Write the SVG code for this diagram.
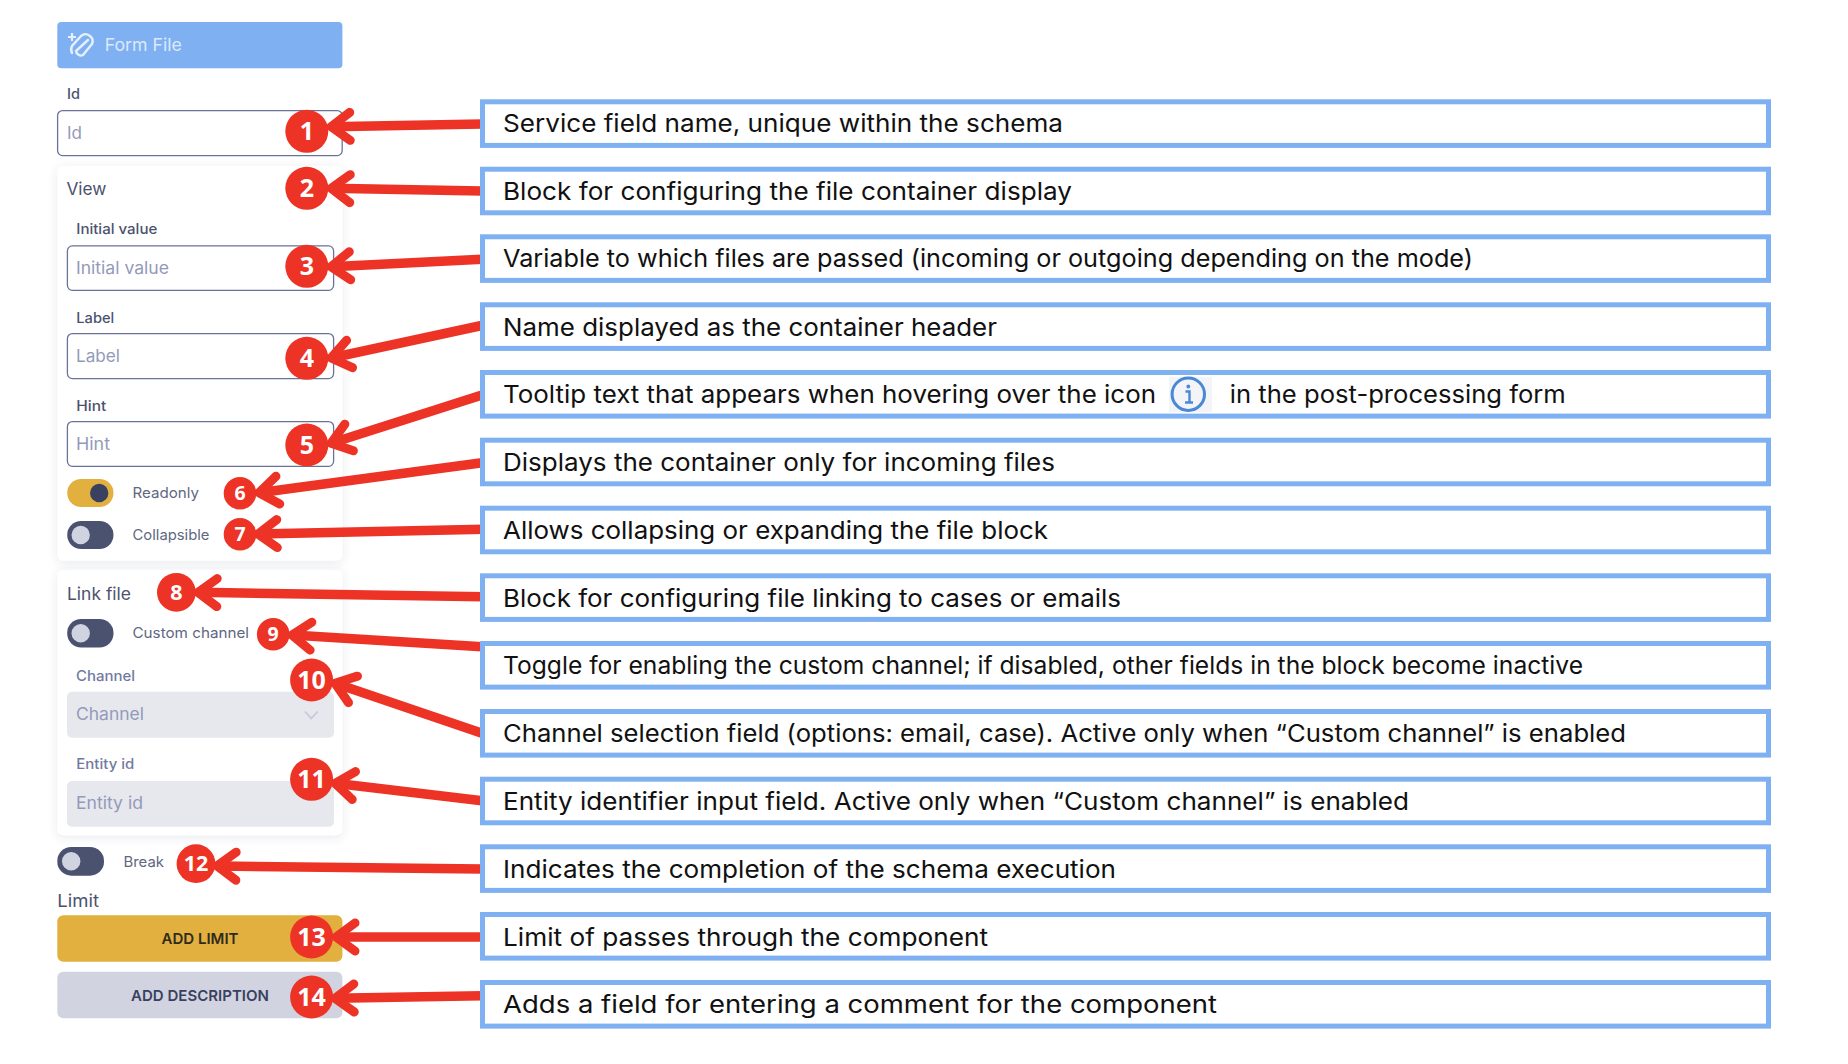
<svg xmlns="http://www.w3.org/2000/svg" width="1848" height="1064" viewBox="0 0 1848 1064">
<style>
text{font-family:"Inter","Liberation Sans",sans-serif}
.box{fill:#fff;stroke:#7fb1f2;stroke-width:5}
.desc{font-size:24.5px;fill:#111}
.lbl{font-size:14.5px;font-weight:500;fill:#4b5270}
.lbld{font-size:14.5px;font-weight:500;fill:#7279a0}
.ph{font-size:17px;fill:#939ab9}
.title{font-size:17px;fill:#4b5270}
.tl{font-size:14.5px;fill:#5f6782}
.inp{fill:#fff;stroke:#6a7299;stroke-width:1.3}
.dis{fill:#e7e8ee}
.card{fill:#fff;filter:url(#sh)}
.off{fill:#4a5270}
.knob{fill:#d0d3e0}
.badge{fill:#ec3325}
.num{font-family:"Open Sans","Liberation Sans",sans-serif;font-weight:700;fill:#fff;text-anchor:middle}
.n1{font-size:25px}.n2{font-size:21.5px}.n3{font-size:19.5px}
.btn{font-size:15px;font-weight:600;text-anchor:middle}
.arr{fill:none;stroke:#ec3325;stroke-width:9.5;marker-end:url(#head)}
</style>
<defs>
<filter id="sh" x="-15%" y="-10%" width="130%" height="120%"><feDropShadow dx="0" dy="2" stdDeviation="5" flood-color="#4a5270" flood-opacity="0.13"/></filter>
<marker id="head" markerUnits="userSpaceOnUse" markerWidth="50" markerHeight="60" refX="32" refY="30" orient="auto" overflow="visible">
<path d="M13 16 L32 30 L13 44" fill="none" stroke="#ec3325" stroke-width="9" stroke-linecap="round" stroke-linejoin="round"/>
</marker>
</defs>
<rect width="1848" height="1064" fill="#fff"/>

<g id="form-header">
<rect x="57.3" y="22" width="285.1" height="46.3" rx="4" fill="#7fb1f2"/>
<path d="M88 40 L76 51 A5 5 0 0 0 83 55 L92 44 A7 7 0 0 0 81 36 L72 46 A8 8 0 0 0 72 53" fill="none" stroke="#e6f0fc" stroke-width="2.4" stroke-linecap="round"/>
<path d="M72 33 V41 M68 37 H76" stroke="#e6f0fc" stroke-width="2.2"/>
<text x="104.8" y="51" font-size="17" fill="#dce9fb" textLength="77" lengthAdjust="spacingAndGlyphs">Form File</text>
</g>
<g id="field-id">
<text class="lbl" x="67" y="99.3">Id</text>
<rect class="inp" x="57.6" y="110.6" width="284.6" height="45" rx="5"/>
<text class="ph" x="67" y="139.3">Id</text>
</g>
<g id="card-view">
<rect class="card" x="57.3" y="166" width="285.1" height="394.7" rx="6"/>
<text class="title" x="66.4" y="195.3" textLength="40" lengthAdjust="spacingAndGlyphs">View</text>
<text class="lbl" x="76.3" y="234.3" textLength="81" lengthAdjust="spacingAndGlyphs">Initial value</text>
<rect class="inp" x="67.4" y="245.9" width="266.2" height="44.4" rx="5"/>
<text class="ph" x="76" y="274" textLength="93" lengthAdjust="spacingAndGlyphs">Initial value</text>
<text class="lbl" x="76.3" y="322.7" textLength="38" lengthAdjust="spacingAndGlyphs">Label</text>
<rect class="inp" x="67.4" y="333.6" width="266.2" height="45" rx="5"/>
<text class="ph" x="76" y="362.3" textLength="44" lengthAdjust="spacingAndGlyphs">Label</text>
<text class="lbl" x="76.3" y="410.7" textLength="30" lengthAdjust="spacingAndGlyphs">Hint</text>
<rect class="inp" x="67.4" y="421.6" width="266.2" height="44.7" rx="5"/>
<text class="ph" x="76" y="450.3" textLength="34" lengthAdjust="spacingAndGlyphs">Hint</text>
<rect x="67.2" y="479" width="46.3" height="28" rx="14" fill="#e2b03f"/>
<circle cx="99.2" cy="493" r="9.2" fill="#3a4160"/>
<text class="tl" x="132.5" y="498" textLength="66.5" lengthAdjust="spacingAndGlyphs">Readonly</text>
<rect class="off" x="67.2" y="521" width="46.3" height="28" rx="14"/>
<circle class="knob" cx="80.7" cy="535" r="9.2"/>
<text class="tl" x="132.5" y="540.3" textLength="77" lengthAdjust="spacingAndGlyphs">Collapsible</text>
</g>
<g id="card-link">
<rect class="card" x="57.3" y="570" width="285.1" height="265.3" rx="6"/>
<text class="title" x="67" y="599.7" textLength="64" lengthAdjust="spacingAndGlyphs">Link file</text>
<rect class="off" x="67.2" y="619" width="46.3" height="28.6" rx="14"/>
<circle class="knob" cx="80.7" cy="633.3" r="9.2"/>
<text class="tl" x="132.5" y="638.3" textLength="116.5" lengthAdjust="spacingAndGlyphs">Custom channel</text>
<text class="lbld" x="76" y="680.7" textLength="59" lengthAdjust="spacingAndGlyphs">Channel</text>
<rect class="dis" x="67" y="691.7" width="267" height="46" rx="5"/>
<text class="ph" x="76" y="720" textLength="68" lengthAdjust="spacingAndGlyphs">Channel</text>
<path d="M305 711.5 L311.3 718.5 L317.6 711.5" fill="none" stroke="#c5c9d8" stroke-width="1.8"/>
<text class="lbld" x="76.3" y="769.3" textLength="58" lengthAdjust="spacingAndGlyphs">Entity id</text>
<rect class="dis" x="67" y="781" width="267" height="45.7" rx="5"/>
<text class="ph" x="76" y="809.3" textLength="67" lengthAdjust="spacingAndGlyphs">Entity id</text>
</g>
<g id="field-break">
<rect class="off" x="57.3" y="847" width="46.7" height="28.7" rx="14"/>
<circle class="knob" cx="71.2" cy="861.3" r="9.2"/>
<text class="tl" x="123.4" y="867.3" textLength="40.6" lengthAdjust="spacingAndGlyphs">Break</text>
</g>
<g id="field-limit">
<text class="title" x="57.3" y="907.3" textLength="41.7" lengthAdjust="spacingAndGlyphs">Limit</text>
<rect x="57.3" y="915.3" width="285.1" height="46.4" rx="6" fill="#e2b03f"/>
<text class="btn" x="200" y="944.3" fill="#2f2a1e" textLength="77" lengthAdjust="spacingAndGlyphs">ADD LIMIT</text>
</g>
<g id="btn-description">
<rect x="57.3" y="971.7" width="285.1" height="46.6" rx="6" fill="#d1d4e0"/>
<text class="btn" x="200" y="1000.7" fill="#3a4160" textLength="138" lengthAdjust="spacingAndGlyphs">ADD DESCRIPTION</text>
</g>

<g id="connectors">
<line class="arr" x1="482" y1="124" x2="331" y2="126.7"/>
<line class="arr" x1="482" y1="191" x2="331" y2="188.3"/>
<line class="arr" x1="482" y1="259.3" x2="331" y2="266.7"/>
<line class="arr" x1="484" y1="325" x2="331" y2="358"/>
<line class="arr" x1="482" y1="395" x2="331" y2="443.3"/>
<line class="arr" x1="482" y1="462.7" x2="259" y2="492.7"/>
<line class="arr" x1="484" y1="529.3" x2="258" y2="534"/>
<line class="arr" x1="484" y1="596.7" x2="198" y2="592.3"/>
<line class="arr" x1="482" y1="646.7" x2="292" y2="635"/>
<line class="arr" x1="482" y1="733.3" x2="335" y2="683.3"/>
<line class="arr" x1="482" y1="800.7" x2="335" y2="783.3"/>
<line class="arr" x1="482" y1="869" x2="217" y2="866"/>
<line class="arr" x1="482" y1="937" x2="336" y2="937"/>
<line class="arr" x1="482" y1="995.7" x2="335" y2="998.3"/>
</g>

<g id="badge-1"><circle class="badge" cx="306.8" cy="131.3" r="21.5"/><text class="num n1" x="306.8" y="140.2">1</text></g>
<g id="badge-2"><circle class="badge" cx="306.8" cy="188.3" r="21.5"/><text class="num n1" x="306.8" y="197.2">2</text></g>
<g id="badge-3"><circle class="badge" cx="306.8" cy="266.3" r="21.5"/><text class="num n1" x="306.8" y="275.2">3</text></g>
<g id="badge-4"><circle class="badge" cx="306.8" cy="358.3" r="21.5"/><text class="num n1" x="306.8" y="367.2">4</text></g>
<g id="badge-5"><circle class="badge" cx="306.8" cy="445" r="21.5"/><text class="num n1" x="306.8" y="453.9">5</text></g>
<g id="badge-6"><circle class="badge" cx="240" cy="493.3" r="16.3"/><text class="num n3" x="240" y="500.3">6</text></g>
<g id="badge-7"><circle class="badge" cx="240" cy="534.3" r="16.3"/><text class="num n3" x="240" y="541.3">7</text></g>
<g id="badge-8"><circle class="badge" cx="176.4" cy="592.3" r="19.4"/><text class="num n2" x="176.4" y="600">8</text></g>
<g id="badge-9"><circle class="badge" cx="273.2" cy="634.3" r="16.3"/><text class="num n3" x="273.2" y="641.3">9</text></g>
<g id="badge-10"><circle class="badge" cx="311.6" cy="680" r="21.5"/><text class="num n1" x="311.6" y="688.9">10</text></g>
<g id="badge-11"><circle class="badge" cx="311.6" cy="779.3" r="21.5"/><text class="num n1" x="311.6" y="788.2">11</text></g>
<g id="badge-12"><circle class="badge" cx="196" cy="863.7" r="19.4"/><text class="num n2" x="196" y="871.4">12</text></g>
<g id="badge-13"><circle class="badge" cx="311.6" cy="937" r="21.5"/><text class="num n1" x="311.6" y="945.9">13</text></g>
<g id="badge-14"><circle class="badge" cx="311.6" cy="997" r="21.5"/><text class="num n1" x="311.6" y="1005.9">14</text></g>

<g id="note-1"><rect class="box" x="482.5" y="101.8" width="1286" height="43.6"/><text class="desc" x="503" y="132.3" textLength="560" lengthAdjust="spacingAndGlyphs">Service field name, unique within the schema</text></g>
<g id="note-2"><rect class="box" x="482.5" y="169.2" width="1286" height="43.6"/><text class="desc" x="503" y="200" textLength="569" lengthAdjust="spacingAndGlyphs">Block for configuring the file container display</text></g>
<g id="note-3"><rect class="box" x="482.5" y="236.8" width="1286" height="43.6"/><text class="desc" x="503" y="267" textLength="970" lengthAdjust="spacingAndGlyphs">Variable to which files are passed (incoming or outgoing depending on the mode)</text></g>
<g id="note-4"><rect class="box" x="482.5" y="304.8" width="1286" height="43.6"/><text class="desc" x="503" y="336" textLength="494" lengthAdjust="spacingAndGlyphs">Name displayed as the container header</text></g>
<g id="note-5"><rect class="box" x="482.5" y="372.5" width="1286" height="43.6"/>
<text class="desc" x="503" y="403" textLength="653" lengthAdjust="spacingAndGlyphs">Tooltip text that appears when hovering over the icon</text>
<rect x="1169" y="376.7" width="43" height="35.6" fill="#f3f4f8"/>
<circle cx="1188.3" cy="394.2" r="16.2" fill="none" stroke="#4a87d6" stroke-width="3"/>
<circle cx="1188.3" cy="386.5" r="1.9" fill="#4a87d6"/>
<path d="M1185.5 391.5 H1189.5 V402.5 M1185 402.5 H1193" fill="none" stroke="#4a87d6" stroke-width="2.4"/>
<text class="desc" x="1229.8" y="403" textLength="336" lengthAdjust="spacingAndGlyphs">in the post-processing form</text></g>
<g id="note-6"><rect class="box" x="482.5" y="440.2" width="1286" height="43.6"/><text class="desc" x="503" y="471" textLength="552" lengthAdjust="spacingAndGlyphs">Displays the container only for incoming files</text></g>
<g id="note-7"><rect class="box" x="482.5" y="508.2" width="1286" height="43.6"/><text class="desc" x="503" y="539" textLength="545" lengthAdjust="spacingAndGlyphs">Allows collapsing or expanding the file block</text></g>
<g id="note-8"><rect class="box" x="482.5" y="575.8" width="1286" height="43.6"/><text class="desc" x="503" y="606.5" textLength="618" lengthAdjust="spacingAndGlyphs">Block for configuring file linking to cases or emails</text></g>
<g id="note-9"><rect class="box" x="482.5" y="643.5" width="1286" height="43.6"/><text class="desc" x="503" y="674" textLength="1080" lengthAdjust="spacingAndGlyphs">Toggle for enabling the custom channel; if disabled, other fields in the block become inactive</text></g>
<g id="note-10"><rect class="box" x="482.5" y="711.5" width="1286" height="43.6"/><text class="desc" x="503" y="742" textLength="1123" lengthAdjust="spacingAndGlyphs">Channel selection field (options: email, case). Active only when “Custom channel” is enabled</text></g>
<g id="note-11"><rect class="box" x="482.5" y="779.2" width="1286" height="43.6"/><text class="desc" x="503" y="810" textLength="906" lengthAdjust="spacingAndGlyphs">Entity identifier input field. Active only when “Custom channel” is enabled</text></g>
<g id="note-12"><rect class="box" x="482.5" y="846.8" width="1286" height="43.6"/><text class="desc" x="503" y="877.5" textLength="613" lengthAdjust="spacingAndGlyphs">Indicates the completion of the schema execution</text></g>
<g id="note-13"><rect class="box" x="482.5" y="914.5" width="1286" height="43.6"/><text class="desc" x="503" y="945.5" textLength="485" lengthAdjust="spacingAndGlyphs">Limit of passes through the component</text></g>
<g id="note-14"><rect class="box" x="482.5" y="982.5" width="1286" height="43.6"/><text class="desc" x="503" y="1013" textLength="714" lengthAdjust="spacingAndGlyphs">Adds a field for entering a comment for the component</text></g>
</svg>
